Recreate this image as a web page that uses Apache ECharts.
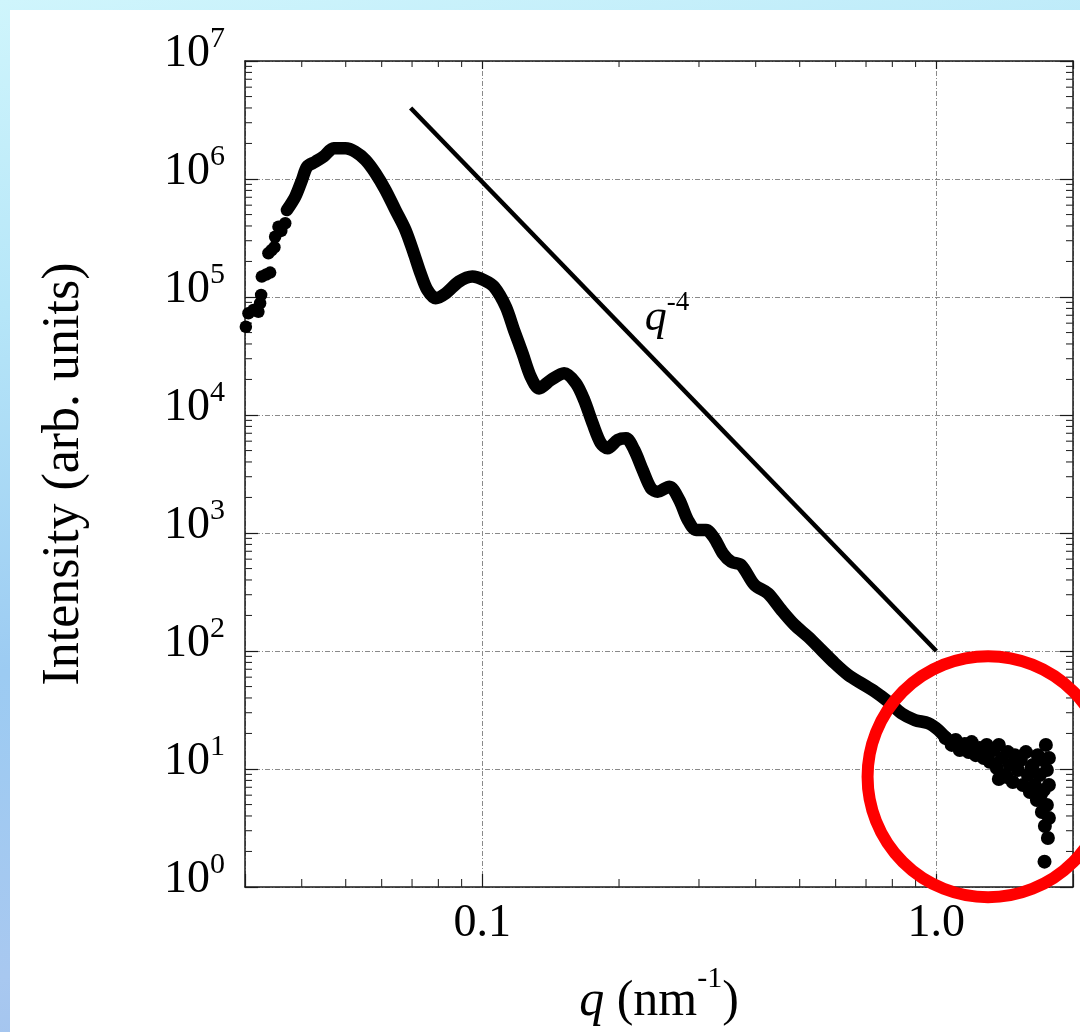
<!DOCTYPE html>
<html>
<head>
<meta charset="utf-8">
<title>SAXS intensity vs q</title>
<script src="https://cdn.jsdelivr.net/npm/echarts@6/dist/echarts.min.js"></script>
<style>
html, body { margin: 0; padding: 0; }
body {
  width: 1080px; height: 1032px; overflow: hidden; position: relative;
  background: linear-gradient(170deg, #cff5fc 0%, #b6e6f8 25%, #9ccbf2 55%, #a8c8f0 80%, #9bbdea 100%);
}
#main { position: absolute; left: 10px; top: 10px; width: 1070px; height: 1022px; background: #fff; }
</style>
</head>
<body>
<div id="main"></div>
<script>
const X_MIN = 0.03
const X_MAX = 2
const Y_MIN = 1
const Y_MAX = 1e7
const FONT = '"Liberation Serif", "Times New Roman", serif'

// separate dots at the low-q end
const headQ = [0.03013, 0.03053, 0.03131, 0.03211, 0.03239, 0.03256, 0.03267, 0.03341, 0.03408,
  0.03378, 0.03431, 0.03483, 0.03495, 0.03606, 0.03555, 0.03679]
const headI = [5.60e4, 7.28e4, 7.76e4, 7.50e4, 8.85e4, 1.04e5, 1.49e5, 1.55e5, 1.61e5,
  2.35e5, 2.49e5, 2.64e5, 3.24e5, 3.63e5, 3.94e5, 4.22e5]

// continuous part of the profile
const curveQ = [0.03711, 0.03871, 0.04005, 0.04110, 0.04286, 0.04470, 0.04704, 0.04991, 0.05253, 0.05527,
  0.05815, 0.06116, 0.06434, 0.06770, 0.07063, 0.07307, 0.07561, 0.07890, 0.08298, 0.08878,
  0.09504, 0.1008, 0.1061, 0.1126, 0.1174, 0.1226, 0.1278, 0.1333, 0.1415, 0.1514,
  0.1607, 0.1676, 0.1749, 0.1824, 0.1887, 0.1986, 0.2072, 0.2161, 0.2255, 0.2352,
  0.2434, 0.2582, 0.2716, 0.2835, 0.2957, 0.3110, 0.3244, 0.3385, 0.3532, 0.3717,
  0.3978, 0.4257, 0.4555, 0.4874, 0.5218, 0.5582, 0.5973, 0.6394, 0.6841, 0.7320,
  0.7834, 0.8384, 0.8970, 0.9601, 1.0102, 1.0629, 1.1184]
const curveI = [5.46e5, 7.08e5, 9.81e5, 1.27e6, 1.40e6, 1.55e6, 1.82e6, 1.82e6, 1.70e6, 1.45e6,
  1.12e6, 8.07e5, 5.46e5, 3.70e5, 2.35e5, 1.59e5, 1.15e5, 9.75e4, 1.07e5, 1.35e5,
  1.49e5, 1.39e5, 1.22e5, 8.28e4, 5.25e4, 3.33e4, 2.11e4, 1.68e4, 1.98e4, 2.26e4,
  1.86e4, 1.34e4, 8.51e3, 5.76e3, 5.22e3, 6.14e3, 6.35e3, 5.05e3, 3.42e3, 2.39e3,
  2.24e3, 2.47e3, 1.90e3, 1.29e3, 1.06e3, 1.06e3, 902, 673, 571, 535,
  362, 308, 223, 166, 132, 102, 78.7, 62.6, 53.2, 45.2,
  37.2, 29.6, 26.0, 24.4, 21.4, 17.6, 15.5]

// noisy high-q tail
const tailQ = [1.048, 1.081, 1.103, 1.126, 1.155, 1.178, 1.196, 1.221, 1.246, 1.272,
  1.291, 1.311, 1.338, 1.359, 1.373, 1.394, 1.415, 1.437, 1.451, 1.474,
  1.489, 1.512, 1.535, 1.551, 1.575, 1.591, 1.607, 1.632, 1.648, 1.665,
  1.673, 1.690, 1.708, 1.717, 1.725, 1.734, 1.743, 1.752, 1.752, 1.761,
  1.770, 1.770, 1.770, 1.731, 1.373, 1.429, 1.300, 1.500, 1.620, 1.700]
const tailI = [18.3, 16.0, 17.6, 14.5, 16.3, 13.9, 16.9, 13.1, 15.1, 12.4,
  16.0, 11.5, 14.5, 10.2, 16.0, 12.4, 8.90, 13.9, 10.8, 7.76,
  13.1, 9.81, 11.9, 7.32, 13.9, 8.90, 6.38, 10.8, 7.32, 5.46,
  13.1, 8.90, 4.32, 11.9, 6.64, 3.29, 16.0, 9.81, 4.95, 2.60,
  12.4, 7.32, 3.84, 1.64, 8.23, 8.55, 13.4, 11.0, 10.2, 6.10]

// q^-4 guide line
const guideQ = [0.0695, 1.0]
const guideI = [4.0e6, 100]
const guideLabelAt = [0.255, 6.6e4]

// minor tick positions
const xMinorTicks = [0.04, 0.05, 0.06, 0.07, 0.08, 0.09, 0.2, 0.3, 0.4, 0.5, 0.6, 0.7, 0.8, 0.9]
const yMinorTicks = []
for (let n = 0; n < 7; n++) {
  for (let k = 2; k <= 9; k++) yMinorTicks.push(k * Math.pow(10, n))
}

// red ring round the noisy tail
const ringCenter = [1.30, 8.6]

const zip = (a, b) => a.map((v, i) => [v, b[i]])
const isDecade = (v) => Math.abs(Math.log10(v) - Math.round(Math.log10(v))) < 1e-6

const chart = echarts.init(document.getElementById('main'))

const frameLine = { color: '#1a1a1a', width: 1.5 }
const tickLine = { color: '#1a1a1a', width: 1.2 }
const gridLine = { show: true, lineStyle: { color: '#8a8a8a', width: 1, type: [5, 2, 1, 2] } }

const minorTickStyle = { stroke: '#2a2a2a', lineWidth: 1.1 }

const option = {
  animation: false,
  grid: { left: 235, top: 51, right: 7, bottom: 145 },
  xAxis: [
    {
      type: 'log',
      logBase: 10,
      min: X_MIN,
      max: X_MAX,
      position: 'bottom',
      axisLine: { show: true, onZero: false, lineStyle: frameLine },
      axisTick: { show: true, inside: true, length: 13, lineStyle: tickLine },
      axisLabel: {
        fontFamily: FONT,
        fontSize: 46,
        color: '#000',
        margin: 14,
        formatter: (v) => isDecade(v) ? Number(v).toFixed(1) : ''
      },
      splitLine: gridLine,
      name: '{i|q}{r| (nm}{s|-1}{r|)}',
      nameLocation: 'middle',
      nameGap: 77,
      nameMoveOverlap: false,
      nameTextStyle: {
        rich: {
          i: { fontFamily: FONT, fontSize: 50, fontStyle: 'italic', color: '#000', lineHeight: 76 },
          r: { fontFamily: FONT, fontSize: 50, color: '#000', lineHeight: 76 },
          s: { fontFamily: FONT, fontSize: 30, color: '#000', lineHeight: 30, verticalAlign: 'top' }
        }
      }
    },
    {
      type: 'log',
      logBase: 10,
      min: X_MIN,
      max: X_MAX,
      position: 'top',
      axisLine: { show: true, onZero: false, lineStyle: frameLine },
      axisTick: { show: true, inside: true, length: 8, lineStyle: tickLine },
      axisLabel: { show: false },
      splitLine: { show: false }
    }
  ],
  yAxis: [
    {
      type: 'log',
      logBase: 10,
      min: Y_MIN,
      max: Y_MAX,
      position: 'left',
      axisLine: { show: true, onZero: false, lineStyle: frameLine },
      axisTick: { show: true, inside: true, length: 13, lineStyle: tickLine },
      axisLabel: {
        margin: 20,
        padding: [0, 0, 14, 0],
        formatter: (v) => '{b|10}{s|' + Math.round(Math.log10(v)) + '}',
        rich: {
          b: { fontFamily: FONT, fontSize: 46, color: '#000', lineHeight: 60 },
          s: { fontFamily: FONT, fontSize: 30, color: '#000', lineHeight: 30, verticalAlign: 'top' }
        }
      },
      splitLine: gridLine,
      name: 'Intensity (arb. units)',
      nameLocation: 'middle',
      nameRotate: 90,
      nameGap: 155,
      nameMoveOverlap: false,
      nameTextStyle: { fontFamily: FONT, fontSize: 52, color: '#000' }
    },
    {
      type: 'log',
      logBase: 10,
      min: Y_MIN,
      max: Y_MAX,
      position: 'right',
      axisLine: { show: true, onZero: false, lineStyle: frameLine },
      axisTick: { show: true, inside: true, length: 13, lineStyle: tickLine },
      axisLabel: { show: false },
      splitLine: { show: false }
    }
  ],
  series: [
    {
      // minor ticks along q, bottom and top edges
      type: 'custom',
      silent: true,
      z: 3,
      data: xMinorTicks.map(v => [v, Y_MIN]),
      renderItem: (params, api) => {
        const b = api.coord([api.value(0), Y_MIN])
        const t = api.coord([api.value(0), Y_MAX])
        return {
          type: 'group',
          children: [
            { type: 'line', shape: { x1: b[0], y1: b[1], x2: b[0], y2: b[1] - 8 }, style: minorTickStyle },
            { type: 'line', shape: { x1: t[0], y1: t[1], x2: t[0], y2: t[1] + 6 }, style: minorTickStyle }
          ]
        }
      }
    },
    {
      // minor ticks along intensity, left and right edges
      type: 'custom',
      silent: true,
      z: 3,
      data: yMinorTicks.map(v => [X_MIN, v]),
      renderItem: (params, api) => {
        const l = api.coord([X_MIN, api.value(1)])
        const r = api.coord([X_MAX, api.value(1)])
        return {
          type: 'group',
          children: [
            { type: 'line', shape: { x1: l[0], y1: l[1], x2: l[0] + 7, y2: l[1] }, style: minorTickStyle },
            { type: 'line', shape: { x1: r[0], y1: r[1], x2: r[0] - 7, y2: r[1] }, style: minorTickStyle }
          ]
        }
      }
    },
    {
      name: 'q^-4',
      type: 'line',
      data: zip(guideQ, guideI),
      showSymbol: false,
      silent: true,
      z: 4,
      lineStyle: { color: '#000', width: 4.5, cap: 'butt' }
    },
    {
      name: 'profile',
      type: 'line',
      data: zip(curveQ, curveI),
      showSymbol: false,
      smooth: 0.3,
      silent: true,
      z: 5,
      lineStyle: { color: '#000', width: 12.5, cap: 'round', join: 'round' }
    },
    {
      name: 'head dots',
      type: 'scatter',
      data: zip(headQ, headI),
      symbolSize: 12.5,
      silent: true,
      z: 5,
      itemStyle: { color: '#000', opacity: 1 }
    },
    {
      name: 'tail dots',
      type: 'scatter',
      data: zip(tailQ, tailI),
      symbolSize: 14,
      silent: true,
      z: 5,
      itemStyle: { color: '#000', opacity: 1 }
    },
    {
      name: 'guide label',
      type: 'scatter',
      data: [guideLabelAt],
      symbolSize: 1,
      silent: true,
      z: 6,
      itemStyle: { color: 'rgba(0,0,0,0)', opacity: 1 },
      label: {
        show: true,
        position: 'inside',
        color: '#000',
        formatter: '{q|q}{e|-4}',
        rich: {
          q: { fontFamily: FONT, fontSize: 44, fontStyle: 'italic', color: '#000', lineHeight: 58 },
          e: { fontFamily: FONT, fontSize: 27, color: '#000', lineHeight: 27, verticalAlign: 'top' }
        }
      }
    }
  ]
}

chart.setOption(option)

const c = chart.convertToPixel({ gridIndex: 0 }, ringCenter)
chart.setOption({
  graphic: [{
    type: 'circle',
    silent: true,
    z: 100,
    shape: { cx: c[0], cy: c[1], r: 120.5 },
    style: { fill: 'none', stroke: '#ff0000', lineWidth: 12 }
  }]
})
</script>
</body>
</html>
